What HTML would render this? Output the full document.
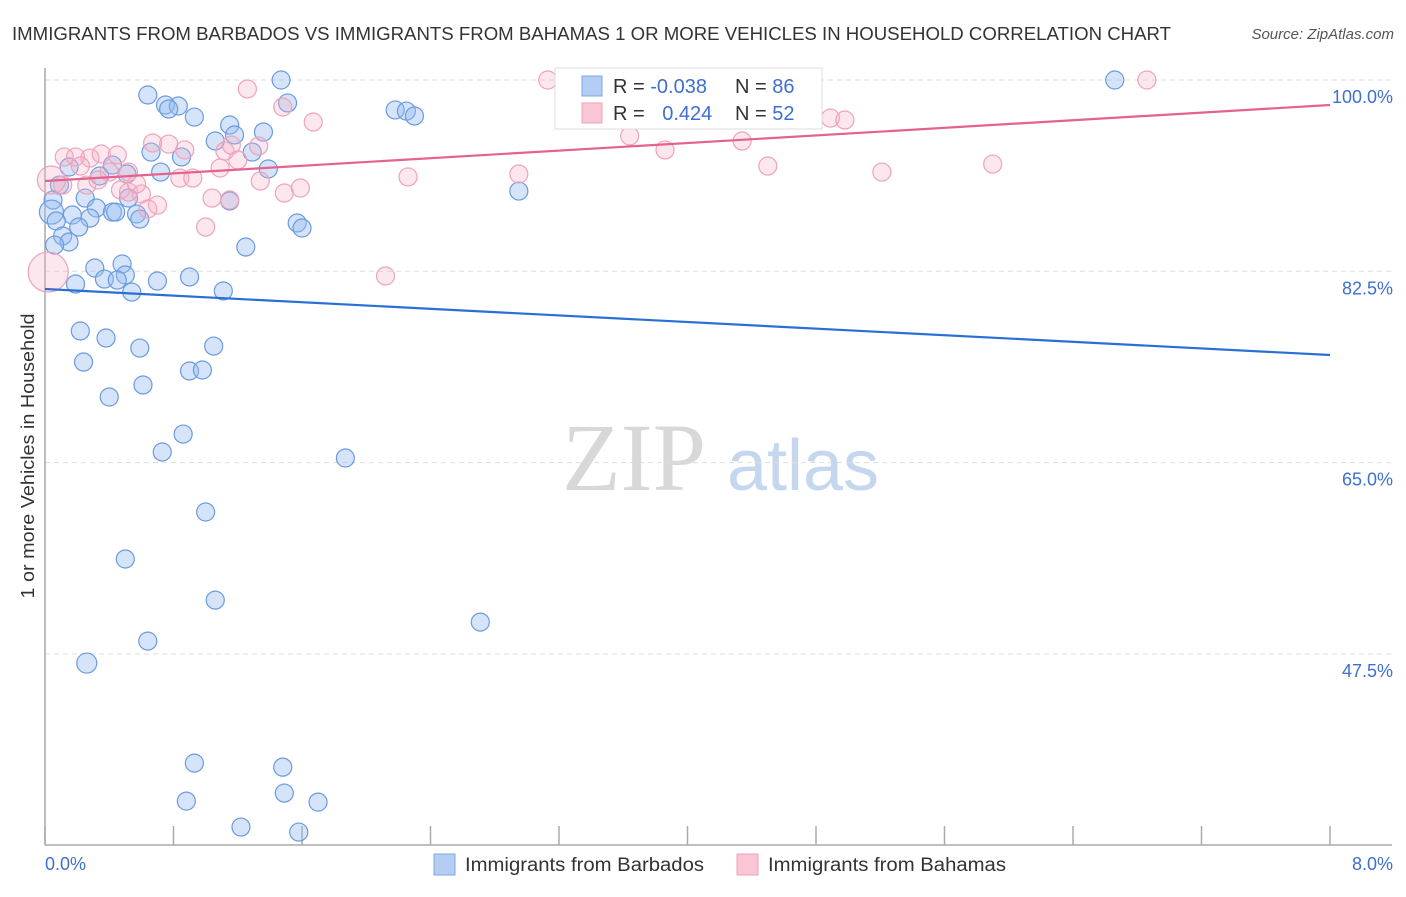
<!DOCTYPE html>
<html><head><meta charset="utf-8"><style>
body{margin:0;background:#fff;font-family:"Liberation Sans",sans-serif}
svg text{font-family:"Liberation Sans",sans-serif}
</style></head><body>
<svg id="chart" width="1406" height="892" viewBox="0 0 1406 892" xmlns="http://www.w3.org/2000/svg">
<text x="12" y="40" font-size="18" fill="#333" textLength="1159" lengthAdjust="spacingAndGlyphs">IMMIGRANTS FROM BARBADOS VS IMMIGRANTS FROM BAHAMAS 1 OR MORE VEHICLES IN HOUSEHOLD CORRELATION CHART</text>
<text x="1394" y="39" font-size="15" fill="#555" font-style="italic" text-anchor="end">Source: ZipAtlas.com</text>
<g>
<text x="634" y="490" font-size="96" fill="#d8d8d8" text-anchor="middle" font-family="Liberation Serif" style="font-family:'Liberation Serif',serif">ZIP</text>
<text x="803" y="490" font-size="72" fill="#c5d7ef" text-anchor="middle">atlas</text>
</g>
<g id="grid"></g>
<g id="axes"></g>
<g id="marks"></g>
<text transform="translate(34,456) rotate(-90)" font-size="18" fill="#333" text-anchor="middle" textLength="285" lengthAdjust="spacingAndGlyphs">1 or more Vehicles in Household</text>
<g>
<rect x="555" y="68" width="267" height="61" fill="#fff" stroke="#ddd"/>
<rect x="582" y="76" width="20" height="20" fill="#b3cdf3" stroke="#7ea6e6"/>
<rect x="582" y="103" width="20" height="20" fill="#f9c6d5" stroke="#f0a0b8"/>
<text x="613" y="93" font-size="20" fill="#333">R = <tspan fill="#3e6fd1">-0.038</tspan></text>
<text x="735" y="93" font-size="20" fill="#333">N = <tspan fill="#3e6fd1">86</tspan></text>
<text x="613" y="120" font-size="20" fill="#333">R = <tspan fill="#3e6fd1" dx="12">0.424</tspan></text>
<text x="735" y="120" font-size="20" fill="#333">N = <tspan fill="#3e6fd1">52</tspan></text>
</g>
<g>
<rect x="434" y="854" width="21" height="21" fill="#b3cdf3" stroke="#7ea6e6"/>
<text x="465" y="871" font-size="19" fill="#333" textLength="239" lengthAdjust="spacingAndGlyphs">Immigrants from Barbados</text>
<rect x="737" y="854" width="21" height="21" fill="#f9c6d5" stroke="#f0a0b8"/>
<text x="768" y="871" font-size="19" fill="#333" textLength="238" lengthAdjust="spacingAndGlyphs">Immigrants from Bahamas</text>
</g>
</svg>
<script>
const yTicks=[100,82.5,65,47.5];
const yTickLabels=["100.0%","82.5%","65.0%","47.5%"];
const xTickValues=[0,0.8,1.6,2.4,3.2,4,4.8,5.6,6.4,7.2,8];
const xEndLabels=["0.0%","8.0%"];
const barbadosX=[0.64,1.47,0.75,0.83,0.77,0.93,1.51,2.18,2.25,2.30,1.15,1.06,1.18,1.36,0.66,0.85,1.29,0.42,0.15,0.34,0.51,0.72,1.39,0.09,0.05,0.25,2.95,1.15,0.52,0.32,0.42,0.04,0.17,0.28,0.44,0.57,0.59,0.07,0.21,1.57,1.60,0.11,0.15,0.06,1.25,0.31,0.48,0.50,0.37,0.45,0.70,0.90,0.19,0.54,1.11,0.22,0.38,0.59,1.05,0.24,0.90,0.98,0.61,0.40,0.86,0.73,1.87,1.00,0.50,1.06,2.71,0.64,0.26,0.93,1.48,0.88,1.49,1.70,1.22,1.58,6.66];
const barbadosY=[98.63,100,97.71,97.62,97.35,96.61,97.90,97.26,97.16,96.71,95.88,94.42,94.97,95.24,93.41,92.96,93.41,92.22,92.04,91.22,91.40,91.58,91.86,90.39,89.02,89.20,89.84,88.93,89.20,88.29,87.92,87.92,87.65,87.37,87.92,87.74,87.28,87.10,86.55,86.92,86.46,85.73,85.18,84.90,84.72,82.80,83.17,82.16,81.79,81.70,81.61,81.98,81.34,80.60,80.70,77.04,76.40,75.48,75.66,74.20,73.38,73.47,72.10,71.00,67.61,65.97,65.42,60.48,56.18,52.42,50.41,48.67,46.66,37.51,37.14,34.03,34.77,33.94,31.66,31.20,100];
const barbadosR=[9,9,9,9,9,9,9,9,9,9,9,9,9,9,9,9,9,9,9,9,9,9,9,9,9,9,9,9,9,9,9,12,9,9,9,9,9,9,9,9,9,9,9,9,9,9,9,9,9,9,9,9,9,9,9,9,9,9,9,9,9,9,9,9,9,9,9,9,9,9,9,9,10,9,9,9,9,9,9,9,9];
const bahamasX=[3.13,6.86,1.26,1.48,1.67,4.89,4.98,3.64,4.34,3.86,4.50,5.90,5.21,2.95,2.26,0.12,0.19,0.28,0.35,0.45,0.67,0.77,0.87,1.12,1.20,1.33,0.22,0.40,0.52,0.11,0.26,0.84,0.92,1.09,1.34,1.49,1.59,1.04,1.15,0.47,0.52,0.60,0.70,0.64,1.00,2.12,0.02,0.04,0.33,0.57,1.16];
const bahamasY=[100,100,99.18,97.53,96.16,96.52,96.34,94.88,94.42,93.60,92.13,92.31,91.58,91.40,91.13,92.96,92.96,92.86,93.23,93.14,94.24,94.14,93.60,93.50,92.68,93.96,92.13,91.58,91.58,90.39,90.39,91.03,91.03,91.95,90.76,89.66,90.12,89.20,89.02,89.94,89.75,89.57,88.56,88.20,86.55,82.07,82.43,90.85,90.85,90.49,94.05];
const bahamasR=[9,9,9,9,9,9,9,9,9,9,9,9,9,9,9,9,9,9,9,9,9,9,9,9,9,9,9,9,9,9,9,9,9,9,9,9,9,9,9,9,9,9,9,9,9,9,20,14,9,9,9];
const barbadosTrend=[80.88,74.84];
const bahamasTrend=[90.76,97.71];
const X0=45,X1=1330,Y100=80,PXPER=191.3/17.5;
const xs=v=>X0+(v/8)*(X1-X0);
const ys=v=>Y100+(100-v)*PXPER;
const NS="http://www.w3.org/2000/svg";
function mk(tag,attrs,parent){const e=document.createElementNS(NS,tag);for(const k in attrs)e.setAttribute(k,attrs[k]);parent.appendChild(e);return e;}
const grid=document.getElementById('grid'),axes=document.getElementById('axes'),marks=document.getElementById('marks');
yTicks.forEach((t,i)=>{
 const l=mk('line',{x1:X0,x2:1392,y1:ys(t),y2:ys(t),stroke:'#ddd','stroke-dasharray':'5,4'},grid);
 
 
 const tx=mk('text',{x:1393,y:ys(t)+23,'font-size':18,fill:'#3e6fd1','text-anchor':'end'},axes);
 tx.textContent=yTickLabels[i];
 
 
});
const la=mk('line',{x1:X0,x2:X0,y1:68,y2:845,stroke:'#aaa','stroke-width':1.5},axes);


const ba=mk('line',{x1:X0,x2:1392,y1:845,y2:845,stroke:'#aaa','stroke-width':1.5},axes);


xTickValues.forEach(v=>{
 const t=mk('line',{x1:xs(v),x2:xs(v),y1:826,y2:845,stroke:'#aaa','stroke-width':1.5},axes);
 
 
});
const xl0=mk('text',{x:45,y:870,'font-size':18,fill:'#3e6fd1'},axes);xl0.textContent=xEndLabels[0];


const xl1=mk('text',{x:1393,y:870,'font-size':18,fill:'#3e6fd1','text-anchor':'end'},axes);xl1.textContent=xEndLabels[1];


barbadosX.forEach((x,i)=>{
 const c=mk('circle',{cx:xs(x),cy:ys(barbadosY[i]),r:barbadosR[i],fill:'rgba(150,188,240,0.4)',stroke:'#6a9ae2','stroke-width':1.2},marks);
 
 
});
bahamasX.forEach((x,i)=>{
 const c=mk('circle',{cx:xs(x),cy:ys(bahamasY[i]),r:bahamasR[i],fill:'rgba(246,175,198,0.3)',stroke:'#efa2b9','stroke-width':1.2},marks);
 
 
});
const tb=mk('line',{x1:xs(0),x2:xs(8),y1:ys(barbadosTrend[0]),y2:ys(barbadosTrend[1]),stroke:'#2a6fd6','stroke-width':2.2},marks);


const tp=mk('line',{x1:xs(0),x2:xs(8),y1:ys(bahamasTrend[0]),y2:ys(bahamasTrend[1]),stroke:'#e5628c','stroke-width':2.2},marks);


</script>
</body></html>
